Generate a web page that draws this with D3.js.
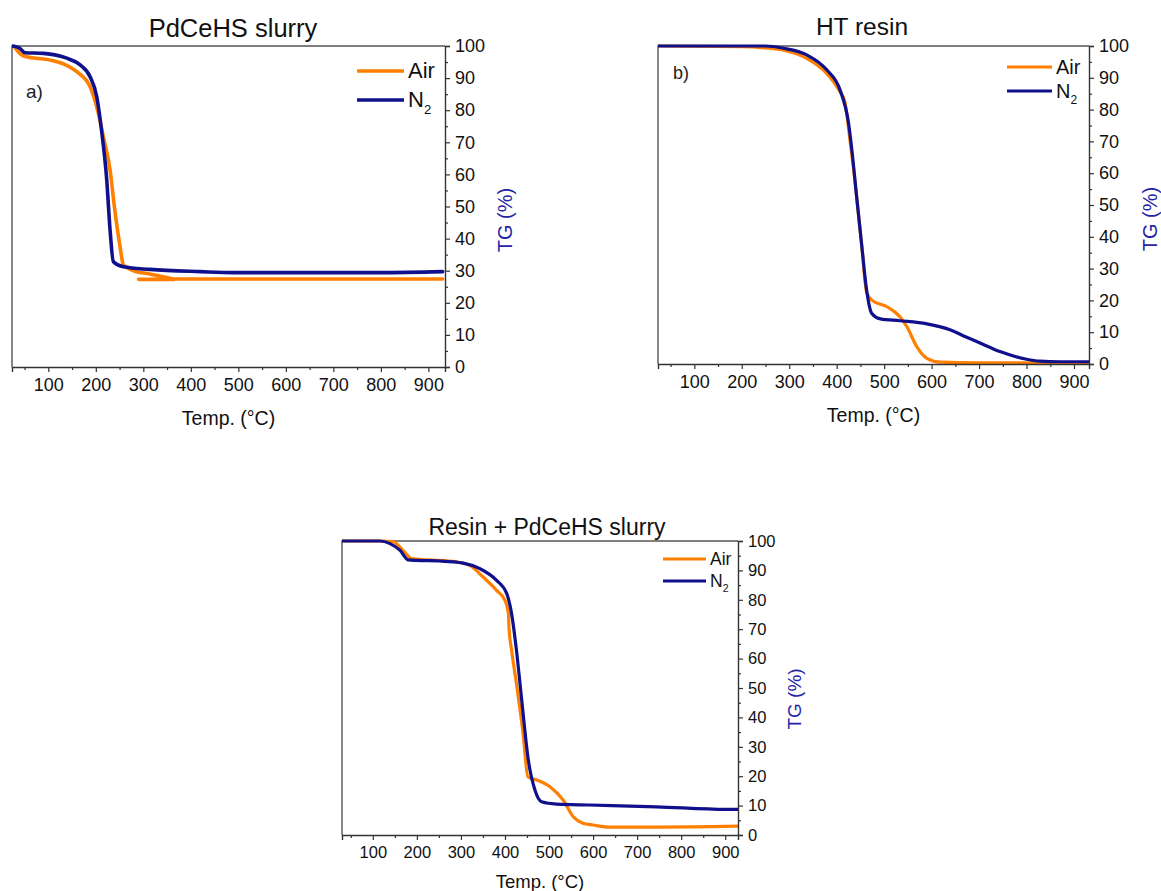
<!DOCTYPE html>
<html>
<head>
<meta charset="utf-8">
<script src="https://cdn.jsdelivr.net/npm/d3@7"></script>
<style>
  body { margin: 0; background: #fff; }
  svg { display: block; }
  text { font-family: "Liberation Sans", Arial, Helvetica, sans-serif; }
</style>
</head>
<body>
<svg id="chart" width="1161" height="891"></svg>
<script>
// Tick values shared by every panel
const tempTicks = [100, 200, 300, 400, 500, 600, 700, 800, 900];
const tempMinorTicks = [50, 150, 250, 350, 450, 550, 650, 750, 850];
const tgTicks = [0, 10, 20, 30, 40, 50, 60, 70, 80, 90, 100];
const tgMinorTicks = [5, 15, 25, 35, 45, 55, 65, 75, 85, 95];
const legendNames = ["Air", "N2"];

// a) PdCeHS slurry — [temperature °C, TG %]; null splits a line into pieces
const slurryAir = [
  [30, 99.5], [40, 97.7], [51, 96.7], [104, 95.6], [135, 94.2], [160, 92], [188, 87.3],
  [202, 81], [216, 71.7], [230, 61.4], [240, 48.9], [251, 37.5], [258, 31.8],
  [279, 30], [314, 29], [349, 27.9], [365, 27.4], [930, 27.4],
  null,
  [290, 27.3], [365, 27.3]
];
const slurryN2 = [
  [25, 100], [40, 99.3], [51, 97.9], [90, 97.7], [139, 96.2], [167, 94.1], [188, 90.4],
  [202, 84.2], [212, 73.8], [223, 58.3], [230, 42.7], [237, 32.8], [258, 31.2],
  [314, 30.4], [420, 29.7], [490, 29.4], [800, 29.4], [930, 29.7]
];

// b) HT resin
const resinAir = [
  [25, 100], [200, 99.8], [250, 99.4], [288, 98.7], [337, 96.1], [379, 91.4], [407, 85.6],
  [417, 82.6], [428, 70.4], [435, 62], [442, 52.6], [453, 36.9], [463, 22.6],
  [474, 20.1], [506, 18], [533, 14.9], [548, 11.7], [569, 5.4], [590, 1.8],
  [619, 0.6], [700, 0.4], [930, 0.4]
];
const resinN2 = [
  [25, 100], [250, 100], [288, 99.3], [337, 97.2], [379, 92.5], [407, 86.2], [425, 75.7],
  [435, 63.1], [442, 52.6], [453, 36.9], [463, 23.3], [474, 15.9], [492, 14.2],
  [533, 13.6], [590, 12.6], [640, 10.7], [674, 8.4], [702, 6.6], [744, 3.9], [800, 1.5],
  [828, 0.9], [870, 0.7], [930, 0.7]
];

// c) Resin + PdCeHS slurry
const blendAir = [
  [30, 100], [120, 100], [146, 99.8], [165, 97.4], [188, 94], [227, 93.6], [290, 92.9],
  [320, 91.7], [350, 87.8], [381, 83.2], [400, 79.8], [408, 75], [409, 70.8],
  [415, 62.9], [426, 51.5], [441, 34.6], [452, 19.8], [472, 18.7], [502, 16.4],
  [532, 11.9], [555, 6.2], [577, 4], [600, 3.4], [639, 2.7], [744, 2.7], [930, 3]
];
const blendN2 = [
  [30, 100], [116, 100], [139, 99.1], [162, 96.8], [180, 93.6], [199, 93.4], [252, 93.2],
  [305, 92.5], [343, 90.6], [381, 86.6], [404, 82.1], [415, 75.3], [426, 62.9],
  [438, 45.9], [453, 25.5], [468, 15.3], [483, 11.3], [517, 10.5], [593, 10.2],
  [744, 9.6], [902, 8.7], [930, 8.7]
];

const colors = { air: "#ff8000", n2: "#10108c", axisTitle: "#2424a8" };

const panels = [
  {
    title: "PdCeHS slurry", tag: "a)", air: slurryAir, n2: slurryN2,
    x0: 12, x1: 445, y0: 46, y1: 367, domain: [23.6, 935],
    titleX: 233, titleY: 37, titleSize: 25.5, tickSize: 18, labelSize: 19.5,
    xLabelY: 425, yLabel: [512, 220], yLabelSize: 20, lw: 3.6,
    legend: { x1: 357, x2: 404, y: 71, dy: 29, size: 22 },
    tagPos: [26, 98], tagSize: 19
  },
  {
    title: "HT resin", tag: "b)", air: resinAir, n2: resinN2,
    x0: 658, x1: 1089, y0: 46, y1: 364, domain: [23.5, 931.6],
    titleX: 862, titleY: 35, titleSize: 24.5, tickSize: 18, labelSize: 19.5,
    xLabelY: 422, yLabel: [1157, 219], yLabelSize: 20, lw: 3.2,
    legend: { x1: 1007, x2: 1052, y: 67, dy: 24, size: 20 },
    tagPos: [673, 79], tagSize: 18
  },
  {
    title: "Resin + PdCeHS slurry", tag: null, air: blendAir, n2: blendN2,
    x0: 342, x1: 738, y0: 541, y1: 835, domain: [30, 929],
    titleX: 547, titleY: 535, titleSize: 23, tickSize: 16.5, labelSize: 18.5,
    xLabelY: 888, yLabel: [801, 699], yLabelSize: 19, lw: 3.2,
    legend: { x1: 663, x2: 706, y: 559, dy: 22, size: 17.5 },
    tagPos: null
  }
];

const svg = d3.select("#chart");

panels.forEach(p => {
  const x = d3.scaleLinear().domain(p.domain).range([p.x0, p.x1]);
  const y = d3.scaleLinear().domain([0, 100]).range([p.y1, p.y0]);
  const g = svg.append("g");

  // frame: left and top edges
  g.append("path")
    .attr("d", `M${p.x0},${p.y1}V${p.y0}H${p.x1}`)
    .attr("fill", "none").attr("stroke", "#555").attr("stroke-width", 1.4);

  // clip curves to the plot box
  const clipId = "clip-" + p.title.replace(/\W/g, "");
  g.append("clipPath").attr("id", clipId)
    .append("rect").attr("x", p.x0).attr("y", p.y0 - 3)
    .attr("width", p.x1 - p.x0).attr("height", p.y1 - p.y0 + 3);

  const line = d3.line()
    .defined(d => d !== null)
    .x(d => x(d[0])).y(d => y(d[1]))
    .curve(d3.curveMonotoneX);

  const plot = g.append("g").attr("clip-path", `url(#${clipId})`);
  plot.append("path").datum(p.air).attr("d", line)
    .attr("fill", "none").attr("stroke", colors.air)
    .attr("stroke-width", p.lw).attr("stroke-linejoin", "round").attr("stroke-linecap", "round");
  plot.append("path").datum(p.n2).attr("d", line)
    .attr("fill", "none").attr("stroke", colors.n2)
    .attr("stroke-width", p.lw).attr("stroke-linejoin", "round").attr("stroke-linecap", "round");

  // bottom temperature axis
  g.append("g").attr("transform", `translate(0,${p.y1})`)
    .call(d3.axisBottom(x).tickValues(tempTicks).tickSize(5).tickPadding(6).tickFormat(d3.format("d")));
  g.append("g").attr("transform", `translate(0,${p.y1})`)
    .call(d3.axisBottom(x).tickValues(tempMinorTicks).tickSize(3).tickFormat(""))
    .call(a => a.select(".domain").remove());

  // right TG axis
  g.append("g").attr("transform", `translate(${p.x1},0)`)
    .call(d3.axisRight(y).tickValues(tgTicks).tickSize(5).tickPadding(5).tickFormat(d3.format("d")));
  g.append("g").attr("transform", `translate(${p.x1},0)`)
    .call(d3.axisRight(y).tickValues(tgMinorTicks).tickSize(3).tickFormat(""))
    .call(a => a.select(".domain").remove());

  g.selectAll(".domain").attr("stroke", "#333").attr("stroke-width", 1.4);
  g.selectAll(".tick line").attr("stroke", "#333").attr("stroke-width", 1.2);
  g.selectAll(".tick text").attr("font-size", p.tickSize).attr("fill", "#111")
    .attr("font-family", "'Liberation Sans', Arial, sans-serif");

  // titles
  g.append("text").attr("x", p.titleX).attr("y", p.titleY)
    .attr("text-anchor", "middle").attr("font-size", p.titleSize).attr("fill", "#111")
    .text(p.title);
  g.append("text").attr("x", (p.x0 + p.x1) / 2).attr("y", p.xLabelY)
    .attr("text-anchor", "middle").attr("font-size", p.labelSize).attr("fill", "#111")
    .text("Temp. (°C)");
  g.append("text")
    .attr("transform", `translate(${p.yLabel[0]},${p.yLabel[1]}) rotate(-90)`)
    .attr("text-anchor", "middle").attr("font-size", p.yLabelSize).attr("fill", colors.axisTitle)
    .text("TG (%)");

  if (p.tag) {
    g.append("text").attr("x", p.tagPos[0]).attr("y", p.tagPos[1])
      .attr("font-size", p.tagSize).attr("fill", "#222").text(p.tag);
  }

  // legend
  const L = p.legend;
  [colors.air, colors.n2].forEach((c, i) => {
    const ly = L.y + i * L.dy;
    g.append("line").attr("x1", L.x1).attr("x2", L.x2).attr("y1", ly).attr("y2", ly)
      .attr("stroke", c).attr("stroke-width", p.lw);
    const t = g.append("text").attr("x", L.x2 + 4).attr("y", ly + L.size * 0.33)
      .attr("font-size", L.size).attr("fill", "#111");
    if (legendNames[i] === "N2") {
      t.append("tspan").text("N");
      t.append("tspan").attr("font-size", L.size * 0.6).attr("dy", L.size * 0.3).text("2");
    } else {
      t.text(legendNames[i]);
    }
  });
});
</script>
</body>
</html>
